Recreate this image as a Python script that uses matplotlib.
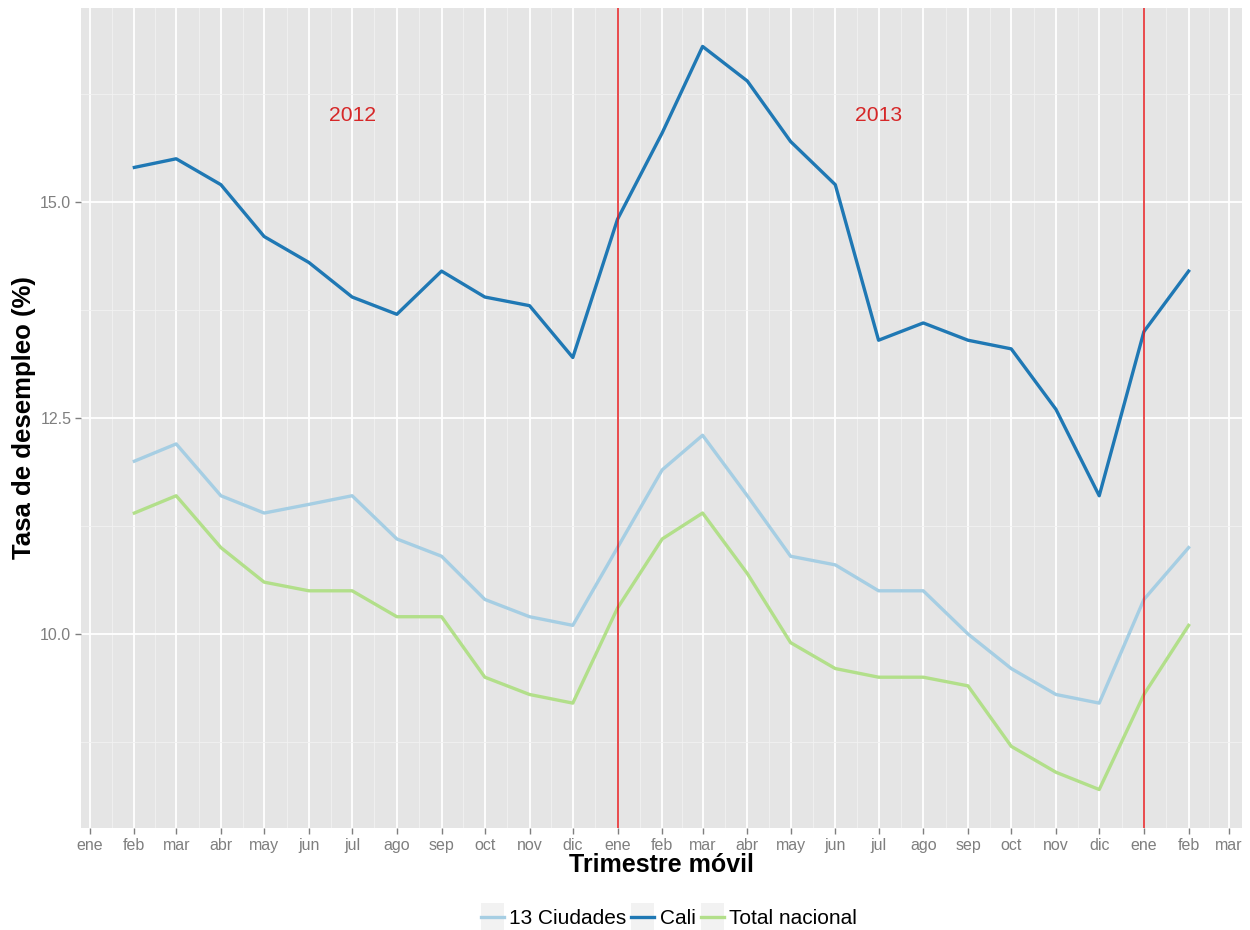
import matplotlib
matplotlib.use("Agg")
from matplotlib import pyplot as plt
import matplotlib.dates as mdates
from matplotlib.legend_handler import HandlerLine2D
from matplotlib.patches import Rectangle
import numpy as np
import datetime as dt

plt.rcParams["font.family"] = ["Liberation Sans", "DejaVu Sans"]

# monthly rolling quarter, feb 2012 .. feb 2014
meses = ["2012-02", "2012-03", "2012-04", "2012-05", "2012-06", "2012-07", "2012-08",
         "2012-09", "2012-10", "2012-11", "2012-12", "2013-01", "2013-02", "2013-03",
         "2013-04", "2013-05", "2013-06", "2013-07", "2013-08", "2013-09", "2013-10",
         "2013-11", "2013-12", "2014-01", "2014-02"]

cali = [15.4, 15.5, 15.2, 14.6, 14.3, 13.9, 13.7, 14.2, 13.9, 13.8, 13.2, 14.8, 15.8,
        16.8, 16.4, 15.7, 15.2, 13.4, 13.6, 13.4, 13.3, 12.6, 11.6, 13.5, 14.2]
ciudades13 = [12.0, 12.2, 11.6, 11.4, 11.5, 11.6, 11.1, 10.9, 10.4, 10.2, 10.1, 11.0, 11.9,
              12.3, 11.6, 10.9, 10.8, 10.5, 10.5, 10.0, 9.6, 9.3, 9.2, 10.4, 11.0]
nacional = [11.4, 11.6, 11.0, 10.6, 10.5, 10.5, 10.2, 10.2, 9.5, 9.3, 9.2, 10.3, 11.1,
            11.4, 10.7, 9.9, 9.6, 9.5, 9.5, 9.4, 8.7, 8.4, 8.2, 9.3, 10.1]

nombres_mes = ["ene", "feb", "mar", "abr", "may", "jun", "jul", "ago", "sep", "oct", "nov", "dic"]
cortes_anio = ["2013-01", "2014-01"]
etiquetas_anio = ["2012", "2013"]
pos_etiquetas = ["2012-07", "2013-07"]


def fecha(s):
    y, m = s.split("-")
    return dt.date(int(y), int(m), 1)


class KeyConFondo(HandlerLine2D):
    # ggplot style legend key: grey square behind the line
    def create_artists(self, legend, orig_handle, xdescent, ydescent, width, height, fontsize, trans):
        arts = super().create_artists(legend, orig_handle, xdescent, ydescent, width, height, fontsize, trans)
        h = height * 1.9
        fondo = Rectangle((-xdescent, -ydescent + height / 2 - h / 2), width, h,
                          facecolor="#F2F2F2", edgecolor="none", transform=trans)
        return [fondo] + list(arts)


x = [fecha(s) for s in meses]

fig = plt.figure(figsize=(12.5, 9.3), dpi=100)
ax = fig.add_axes([0.0648, 0.1097, 0.9288, 0.8817])
ax.set_facecolor("#E5E5E5")
for s in ax.spines.values():
    s.set_visible(False)

# month ticks ene 2012 .. mar 2014
ticks = []
for y in (2012, 2013, 2014):
    for m in range(1, 13):
        d = dt.date(y, m, 1)
        if d <= dt.date(2014, 3, 1):
            ticks.append(d)
tnum = mdates.date2num(ticks)
minor = (tnum[:-1] + tnum[1:]) / 2
ax.set_xticks(tnum)
ax.set_xticklabels([nombres_mes[d.month - 1] for d in ticks])
ax.set_xticks(minor, minor=True)
ax.set_yticks([10.0, 12.5, 15.0])
ax.set_yticklabels(["10.0", "12.5", "15.0"])
ax.set_yticks([8.75, 11.25, 13.75, 16.25], minor=True)

ax.grid(which="major", color="white", linewidth=1.3, zorder=0)
ax.grid(which="minor", color="#F2F2F2", linewidth=0.6, zorder=0)
ax.set_axisbelow(True)
ax.tick_params(which="major", length=4, color="#7F7F7F", labelcolor="#7F7F7F", labelsize=11.5, width=1, pad=3)
ax.tick_params(which="minor", length=0)

ax.set_xlim(mdates.date2num(dt.date(2011, 12, 26)), mdates.date2num(dt.date(2014, 3, 10)))
ax.set_ylim(7.755, 17.245)

ax.plot(x, ciudades13, color="#A6CEE3", linewidth=2.4, label="13 Ciudades", zorder=3)
ax.plot(x, cali, color="#1F78B4", linewidth=2.4, label="Cali", zorder=3)
ax.plot(x, nacional, color="#B2DF8A", linewidth=2.4, label="Total nacional", zorder=3)

for c in cortes_anio:
    ax.axvline(fecha(c), color="#E41A1C", linewidth=1.1, zorder=4)
for t, p in zip(etiquetas_anio, pos_etiquetas):
    ax.text(fecha(p), 16.0, t, color="#D62728", fontsize=15.2, ha="center", va="center")

ax.set_xlabel("Trimestre móvil", fontsize=18, fontweight="bold", labelpad=0)
ax.set_ylabel("Tasa de desempleo (%)", fontsize=18.5, fontweight="bold", va="center")
ax.yaxis.set_label_coords(-0.049, 0.5)

leg = fig.legend(loc="center", bbox_to_anchor=(0.535, 0.012), ncol=3, frameon=False,
                 fontsize=15, handlelength=1.1, handletextpad=0.25, columnspacing=0.25,
                 handler_map={matplotlib.lines.Line2D: KeyConFondo()})

fig.savefig("out.png", dpi=100)
